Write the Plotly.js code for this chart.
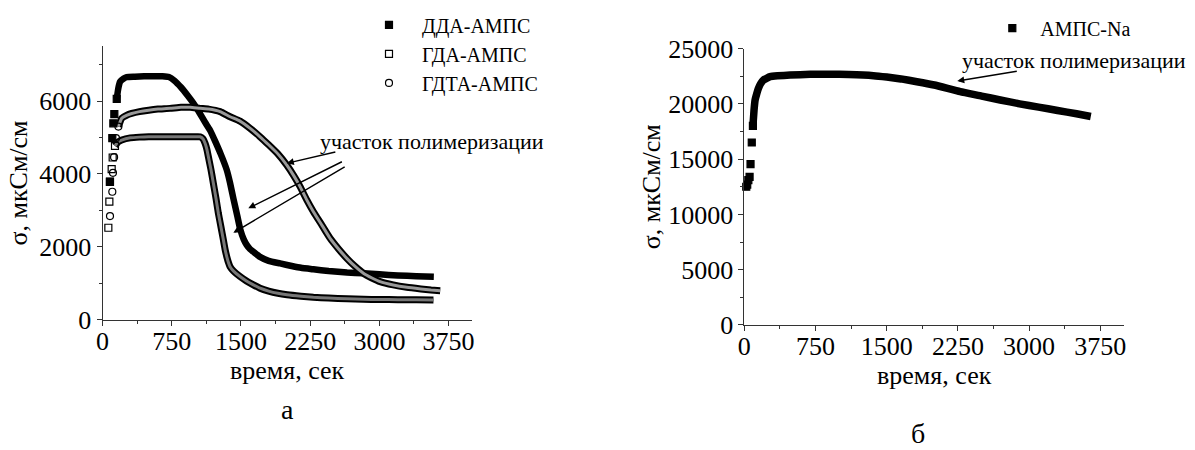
<!DOCTYPE html>
<html>
<head>
<meta charset="utf-8">
<script src="https://cdn.plot.ly/plotly-3.0.1.min.js"></script>
<style>html,body{margin:0;padding:0;background:#fff;}#chart{width:1195px;height:450px;}</style>
</head>
<body>
<div id="chart"></div>
<script>
// ---------- Data ----------
// Panel а: ДДА-АМПС (filled squares)
const ddaT = [80, 106, 117, 128, 154, 171, 190, 230, 262, 350, 450, 550, 650, 720, 780, 850, 920, 985, 1050, 1110, 1165, 1220, 1280, 1346, 1382, 1420, 1460, 1490, 1530, 1562, 1600, 1635, 1707, 1800, 1924, 2050, 2150, 2285, 2450, 2650, 2827, 3000, 3200, 3400, 3590];
const ddaV = [3780, 4980, 5390, 5640, 6060, 6350, 6530, 6620, 6660, 6670, 6680, 6680, 6680, 6660, 6560, 6380, 6160, 5940, 5680, 5420, 5200, 4900, 4550, 4110, 3750, 3300, 2850, 2500, 2200, 2050, 1930, 1860, 1720, 1610, 1540, 1470, 1420, 1378, 1330, 1290, 1268, 1240, 1210, 1190, 1176];
const ddaBandStart = 5;

// Panel а: ГДА-АМПС (open squares)
const gdaT = [63, 74, 81, 99, 110, 135, 170, 208, 300, 400, 500, 600, 700, 800, 900, 1000, 1057, 1090, 1111, 1130, 1147, 1175, 1201, 1230, 1255, 1285, 1310, 1330, 1346, 1365, 1382, 1420, 1490, 1560, 1630, 1707, 1800, 1900, 2000, 2150, 2285, 2450, 2650, 2827, 3000, 3200, 3400, 3586];
const gdaV = [2520, 3240, 3790, 4130, 4450, 4770, 4880, 4930, 4990, 5010, 5020, 5020, 5020, 5020, 5020, 5020, 5020, 4960, 4840, 4680, 4470, 4120, 3740, 3320, 2920, 2520, 2180, 1900, 1730, 1560, 1450, 1330, 1180, 1060, 960, 860, 780, 720, 680, 640, 610, 590, 570, 555, 550, 545, 540, 536];
const gdaBandStart = 6;

// Panel а: ГДТА-АМПС (open circles)
const gdtaT = [81, 106, 113, 125, 146, 172, 208, 260, 316, 400, 500, 600, 732, 850, 950, 1057, 1150, 1274, 1382, 1490, 1600, 1707, 1800, 1900, 1997, 2070, 2141, 2210, 2285, 2380, 2466, 2560, 2647, 2740, 2827, 2920, 3008, 3150, 3297, 3450, 3560, 3659];
const gdtaV = [2840, 3510, 4030, 4460, 4980, 5300, 5530, 5610, 5660, 5710, 5750, 5780, 5800, 5830, 5830, 5800, 5780, 5710, 5570, 5450, 5250, 5020, 4800, 4550, 4240, 3960, 3650, 3300, 2960, 2580, 2230, 1930, 1680, 1450, 1270, 1140, 1040, 950, 885, 840, 810, 790];
const gdtaBandStart = 6;

// Panel б: АМПС-Na (filled squares)
const naT = [20, 30, 42, 55, 65, 78, 90, 102, 113, 130, 148, 170, 200, 271, 350, 482, 693, 900, 1100, 1360, 1500, 1650, 1818, 2000, 2274, 2500, 2696, 2900, 3100, 3300, 3500, 3650];
const naV = [12500, 12700, 13100, 13400, 14550, 16500, 18000, 19440, 20345, 20900, 21400, 21800, 22150, 22450, 22530, 22600, 22670, 22680, 22650, 22545, 22420, 22250, 22000, 21700, 21100, 20700, 20345, 20000, 19700, 19400, 19100, 18850];
const naBandStart = 7;

// Text
const seriesNamesA = ['ДДА-АМПС', 'ГДА-АМПС', 'ГДТА-АМПС'];
const seriesNameB = 'АМПС-Na';
const xTitle = 'время, сек';
const yTitle = 'σ, мкСм/см';
const annoText = 'участок полимеризации';
const xTicks = [0, 750, 1500, 2250, 3000, 3750];
const xTickText = ['0', '750', '1500', '2250', '3000', '3750'];
const yTicksA = [0, 2000, 4000, 6000];
const yTickTextA = ['0', '2000', '4000', '6000'];
const yTicksB = [0, 5000, 10000, 15000, 20000, 25000];
const yTickTextB = ['0', '5000', '10000', '15000', '20000', '25000'];

// ---------- Build ----------
const FONT = 'Liberation Serif';
const AX = '#333';

function markerTrace(t, v, n, name, symbol, xa, ya, legend) {
  return {
    x: t.slice(0, n), y: v.slice(0, n), name: name, type: 'scatter', mode: 'markers',
    xaxis: xa, yaxis: ya, legend: legend,
    marker: {symbol: symbol, size: 7, color: '#000', line: {width: 1.2, color: '#000'}},
    cliponaxis: false
  };
}
function bandTrace(t, v, n, width, color, xa, ya) {
  return {
    x: t.slice(n - 1), y: v.slice(n - 1), type: 'scatter', mode: 'lines', showlegend: false,
    xaxis: xa, yaxis: ya, hoverinfo: 'skip',
    line: {width: width, color: color, shape: 'spline', smoothing: 0.4}
  };
}

const traces = [
  bandTrace(ddaT, ddaV, ddaBandStart, 6.5, '#000', 'x', 'y'),
  bandTrace(gdaT, gdaV, gdaBandStart, 7, '#000', 'x', 'y'),
  bandTrace(gdaT, gdaV, gdaBandStart, 3, '#777', 'x', 'y'),
  bandTrace(gdtaT, gdtaV, gdtaBandStart, 7, '#000', 'x', 'y'),
  bandTrace(gdtaT, gdtaV, gdtaBandStart, 3, '#999', 'x', 'y'),
  markerTrace(ddaT, ddaV, ddaBandStart, seriesNamesA[0], 'square', 'x', 'y', 'legend'),
  markerTrace(gdaT, gdaV, gdaBandStart, seriesNamesA[1], 'square-open', 'x', 'y', 'legend'),
  markerTrace(gdtaT, gdtaV, gdtaBandStart, seriesNamesA[2], 'circle-open', 'x', 'y', 'legend'),
  bandTrace(naT, naV, naBandStart, 7.5, '#000', 'x2', 'y2'),
  markerTrace(naT, naV, naBandStart, seriesNameB, 'square', 'x2', 'y2', 'legend2')
];

function xAxis(domain, anchor) {
  return {
    domain: domain, anchor: anchor, range: [0, 4000], tickmode: 'array', tickvals: xTicks, ticktext: xTickText,
    ticks: 'outside', ticklen: 5, tickwidth: 1, tickcolor: AX, ticklabelstandoff: -7,
    minor: {ticks: 'outside', ticklen: 3, tickwidth: 1, tickcolor: AX, dtick: 375, tick0: 0},
    showline: true, linecolor: AX, linewidth: 1, showgrid: false, zeroline: false,
    tickfont: {family: FONT, size: 26, color: '#000'},
    title: {text: xTitle, font: {family: FONT, size: 26, color: '#000'}, standoff: 0}
  };
}
function yAxis(domain, anchor, range, ticks, tickText, minorD, standoff) {
  return {
    domain: domain, anchor: anchor, range: range, tickmode: 'array', tickvals: ticks, ticktext: tickText,
    ticks: 'outside', ticklen: 5, tickwidth: 1, tickcolor: AX,
    minor: {ticks: 'outside', ticklen: 3, tickwidth: 1, tickcolor: AX, dtick: minorD, tick0: 0},
    showline: true, linecolor: AX, linewidth: 1, showgrid: false, zeroline: false,
    tickfont: {family: FONT, size: 26, color: '#000'},
    title: {text: yTitle, font: {family: FONT, size: 26, color: '#000'}, standoff: standoff}
  };
}

function arrow(xh, yh, xt, yt, xa, ya) {
  return {x: xh, y: yh, ax: xt, ay: yt, xref: xa, yref: ya, axref: xa, ayref: ya, text: '',
    showarrow: true, arrowhead: 2, arrowsize: 1, arrowwidth: 1.4, arrowcolor: '#000'};
}

const layout = {
  width: 1195, height: 450, margin: {l: 0, r: 0, t: 0, b: 0},
  paper_bgcolor: '#fff', plot_bgcolor: '#fff',
  font: {family: FONT, color: '#000'},
  xaxis: xAxis([0.0858, 0.3947], 'y'),
  yaxis: yAxis([0.29, 0.8967], 'x', [0, 7500], yTicksA, yTickTextA, 1000, 4),
  xaxis2: xAxis([0.6229, 0.9406], 'y2'),
  yaxis2: yAxis([0.2778, 0.8922], 'x2', [0, 25000], yTicksB, yTickTextB, 2500, 0),
  showlegend: true,
  legend: {x: 0.2979, y: 0.988, xanchor: 'left', yanchor: 'top', bgcolor: 'rgba(0,0,0,0)',
    font: {family: FONT, size: 20, color: '#000'}, itemwidth: 56},
  legend2: {x: 0.8237, y: 0.981, xanchor: 'left', yanchor: 'top', bgcolor: 'rgba(0,0,0,0)',
    font: {family: FONT, size: 20, color: '#000'}, itemwidth: 46},
  annotations: [
    {x: 2336, y: 4884, xref: 'x', yref: 'y', text: annoText, showarrow: false, xanchor: 'left', yanchor: 'middle',
      font: {family: FONT, size: 22, color: '#000'}},
    arrow(1997, 4291, 2539, 4610, 'x', 'y'),
    arrow(1580, 3055, 2610, 4354, 'x', 'y'),
    arrow(1418, 2384, 2640, 4217, 'x', 'y'),
    {x: 2274, y: 23961, xref: 'x2', yref: 'y2', text: annoText, showarrow: false, xanchor: 'left', yanchor: 'middle',
      font: {family: FONT, size: 22, color: '#000'}},
    arrow(2243, 22062, 2886, 22967, 'x2', 'y2'),
    {x: 287 / 1195, y: 1 - 409 / 450, xref: 'paper', yref: 'paper', text: 'а', showarrow: false,
      xanchor: 'center', yanchor: 'middle', font: {family: FONT, size: 28, color: '#000'}},
    {x: 918 / 1195, y: 1 - 433 / 450, xref: 'paper', yref: 'paper', text: 'б', showarrow: false,
      xanchor: 'center', yanchor: 'middle', font: {family: FONT, size: 28, color: '#000'}}
  ]
};

Plotly.newPlot('chart', traces, layout, {staticPlot: true, displayModeBar: false});
</script>
</body>
</html>
